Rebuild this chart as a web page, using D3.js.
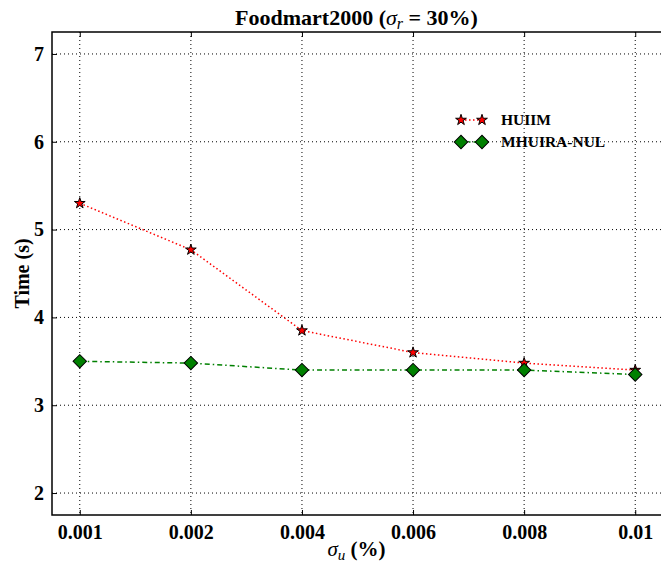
<!DOCTYPE html>
<html>
<head>
<meta charset="utf-8">
<script src="https://cdn.jsdelivr.net/npm/d3@7/dist/d3.min.js"></script>
<style>
html,body{margin:0;padding:0;background:#fff;}
svg{display:block;font-family:"Liberation Serif","Times New Roman",serif;}
</style>
</head>
<body>
<svg id="chart" width="661" height="566"></svg>
<script>
const categories = ["0.001","0.002","0.004","0.006","0.008","0.01"];
const huiim = [5.3, 4.77, 3.85, 3.6, 3.48, 3.4];
const mhuira = [3.5, 3.48, 3.4, 3.4, 3.4, 3.35];
const yTicks = [2,3,4,5,6,7];
const seriesNames = ["HUIIM","MHUIRA-NUL"];

const svg = d3.select("#chart");
const pL = 52, pR = 663, pT = 32, pB = 515;
const FONT = "Liberation Serif, Times New Roman, serif";

const x = d3.scalePoint().domain(categories).range([pL, pR]).padding(0.25);
const y = d3.scaleLinear().domain([1.75, 7.25]).range([pB, pT]);

// grid
const grid = svg.append("g");
grid.selectAll("line.v").data(categories).enter().append("line")
  .attr("x1", d => x(d)).attr("x2", d => x(d)).attr("y1", pT).attr("y2", pB)
  .attr("stroke", "#000").attr("stroke-width", 1).attr("stroke-dasharray", "1,3");
grid.selectAll("line.h").data(yTicks).enter().append("line")
  .attr("y1", d => y(d)).attr("y2", d => y(d)).attr("x1", pL).attr("x2", pR)
  .attr("stroke", "#000").attr("stroke-width", 1).attr("stroke-dasharray", "1,3");

// axes (inward ticks)
const xAxis = d3.axisBottom(x).tickSizeInner(-5).tickSizeOuter(0).tickPadding(10);
const gx = svg.append("g").attr("transform", `translate(0,${pB})`).call(xAxis);
gx.attr("font-family", FONT);
gx.select(".domain").remove();
gx.selectAll("text").attr("font-size", 20).attr("font-weight", "bold").attr("fill", "#000");

const xAxisTop = d3.axisTop(x).tickSizeInner(-5).tickSizeOuter(0).tickFormat("");
const gxt = svg.append("g").attr("transform", `translate(0,${pT})`).call(xAxisTop);
gxt.select(".domain").remove();

const yAxis = d3.axisLeft(y).tickValues(yTicks).tickSizeInner(-5).tickSizeOuter(0).tickPadding(8).tickFormat(d3.format("d"));
const gy = svg.append("g").attr("transform", `translate(${pL},0)`).call(yAxis);
gy.attr("font-family", FONT);
gy.select(".domain").remove();
gy.selectAll("text").attr("font-size", 20).attr("font-weight", "bold").attr("fill", "#000");

// frame
svg.append("rect").attr("x", pL).attr("y", pT).attr("width", pR - pL).attr("height", pB - pT)
  .attr("fill", "none").attr("stroke", "#000").attr("stroke-width", 1.5);

// lines
const line = d3.line().x((d, i) => x(categories[i])).y(d => y(d));
svg.append("path").datum(huiim).attr("d", line).attr("fill", "none")
  .attr("stroke", "#ff0000").attr("stroke-width", 1.5).attr("stroke-dasharray", "1.5,2.5");
svg.append("path").datum(mhuira).attr("d", line).attr("fill", "none")
  .attr("stroke", "#008000").attr("stroke-width", 1.5).attr("stroke-dasharray", "5,3,1.5,3");

const star = d3.symbol().type(d3.symbolStar).size(36);
const diamond = d3.symbol().type(d3.symbolSquare).size(90);

svg.selectAll("path.m1").data(huiim).enter().append("path")
  .attr("d", star).attr("transform", (d, i) => `translate(${x(categories[i])},${y(d)})`)
  .attr("fill", "#ff0000").attr("stroke", "#000").attr("stroke-width", 1);
svg.selectAll("path.m2").data(mhuira).enter().append("path")
  .attr("d", diamond).attr("transform", (d, i) => `translate(${x(categories[i])},${y(d)}) rotate(45)`)
  .attr("fill", "#008000").attr("stroke", "#000").attr("stroke-width", 1);

// legend
const lg = svg.append("g").attr("font-family", FONT);
const rows = [120, 142];
lg.append("line").attr("x1", 461).attr("x2", 482).attr("y1", rows[0]).attr("y2", rows[0])
  .attr("stroke", "#ff0000").attr("stroke-width", 1.5).attr("stroke-dasharray", "1.5,2.5");
lg.append("line").attr("x1", 461).attr("x2", 482).attr("y1", rows[1]).attr("y2", rows[1])
  .attr("stroke", "#008000").attr("stroke-width", 1.5).attr("stroke-dasharray", "5,3,1.5,3");
[461, 482].forEach(px => {
  lg.append("path").attr("d", star).attr("transform", `translate(${px},${rows[0]})`)
    .attr("fill", "#ff0000").attr("stroke", "#000").attr("stroke-width", 1);
  lg.append("path").attr("d", diamond).attr("transform", `translate(${px},${rows[1]}) rotate(45)`)
    .attr("fill", "#008000").attr("stroke", "#000").attr("stroke-width", 1);
});
lg.selectAll("text").data(seriesNames).enter().append("text")
  .attr("x", 501).attr("y", (d, i) => rows[i]).attr("dy", "0.35em")
  .attr("font-size", 15.5).attr("font-weight", "bold").attr("fill", "#000").text(d => d);

// title
const title = svg.append("text").attr("x", (pL + 661) / 2).attr("y", 25)
  .attr("font-family", FONT)
  .attr("text-anchor", "middle").attr("font-size", 22).attr("font-weight", "bold").attr("fill", "#000");
title.append("tspan").text("Foodmart2000 (");
title.append("tspan").attr("font-style", "italic").attr("font-weight", "normal").text("σ");
title.append("tspan").attr("font-style", "italic").attr("font-weight", "normal").attr("font-size", 16).attr("dy", 4).text("r");
title.append("tspan").attr("dy", -4).text(" = 30%)");

// x label
const xl = svg.append("text").attr("x", (pL + 661) / 2).attr("y", 556)
  .attr("font-family", FONT)
  .attr("text-anchor", "middle").attr("font-size", 21).attr("font-weight", "bold").attr("fill", "#000");
xl.append("tspan").attr("font-style", "italic").attr("font-weight", "normal").text("σ");
xl.append("tspan").attr("font-style", "italic").attr("font-weight", "normal").attr("font-size", 15).attr("dy", 4).text("u");
xl.append("tspan").attr("dy", -4).text(" (%)");

// y label
svg.append("text").attr("transform", `translate(29,${(pT + pB) / 2}) rotate(-90)`)
  .attr("font-family", FONT)
  .attr("text-anchor", "middle").attr("font-size", 20).attr("font-weight", "bold").attr("fill", "#000")
  .text("Time (s)");
</script>
</body>
</html>
